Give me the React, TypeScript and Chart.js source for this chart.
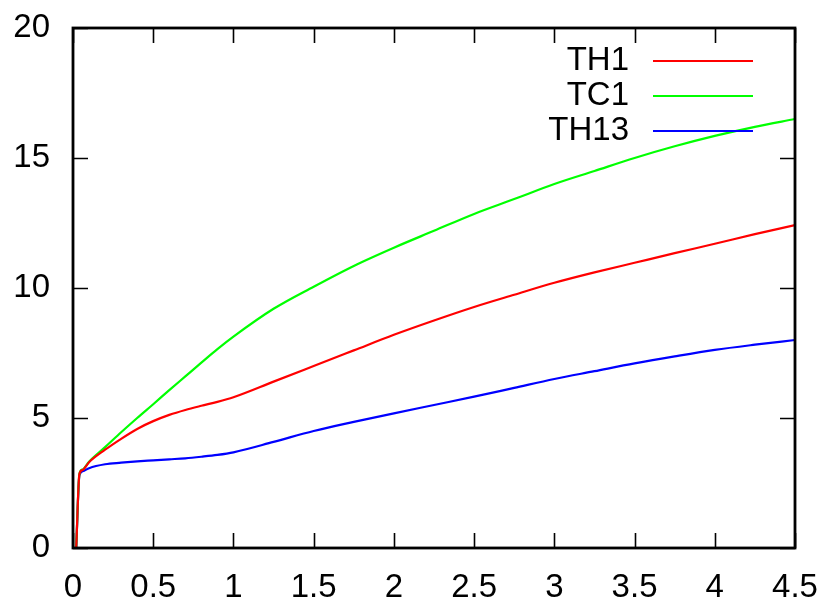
import React, { useEffect, useRef } from "react";
import { Chart, registerables } from "chart.js";

Chart.register(...registerables);

// Sample positions shared by all three series
const xValues = [
  0.02, 0.04, 0.06, 0.1, 0.2, 0.3, 0.4, 0.5, 0.6, 0.7, 0.8, 0.9, 1.0, 1.25, 1.5,
  1.75, 2.0, 2.25, 2.5, 2.75, 3.0, 3.25, 3.5, 3.75, 4.0, 4.25, 4.5,
];

const th1 = [
  0, 2.85, 3.0, 3.3, 3.78, 4.2, 4.58, 4.88, 5.12, 5.31, 5.47, 5.62, 5.8, 6.4, 7.0,
  7.6, 8.2, 8.75, 9.27, 9.74, 10.2, 10.6, 10.97, 11.34, 11.7, 12.07, 12.42,
];

const tc1 = [
  0, 2.85, 3.02, 3.32, 3.88, 4.45, 5.0, 5.53, 6.07, 6.6, 7.13, 7.65, 8.13, 9.2,
  10.05, 10.85, 11.55, 12.2, 12.85, 13.42, 14.0, 14.5, 15.0, 15.45, 15.85, 16.2,
  16.5,
];

const th13 = [
  0, 2.8, 2.95, 3.07, 3.22, 3.28, 3.33, 3.37, 3.41, 3.45, 3.51, 3.58, 3.68, 4.08,
  4.5, 4.85, 5.18, 5.5, 5.82, 6.16, 6.5, 6.8, 7.1, 7.37, 7.62, 7.82, 8.0,
];

const xTicks = [0, 0.5, 1, 1.5, 2, 2.5, 3, 3.5, 4, 4.5];
const yTicks = [0, 5, 10, 15, 20];

const seriesNames = ["TH1", "TC1", "TH13"];
const seriesColors = ["#ff0000", "#00ff00", "#0000ff"];

const FONT = '"Liberation Sans", Arial, Helvetica, sans-serif';
const FONT_SIZE = 33;

const toPoints = (ys: number[]) => xValues.map((x, i) => ({ x, y: ys[i] }));

// Frame with inward tick marks on all four sides, plus a text-left legend
const framePlugin = {
  id: "frameAndKey",
  afterDatasetsDraw(chart: any) {
    const { ctx, chartArea, scales } = chart;
    const { left, right, top, bottom } = chartArea;
    const xs = scales.x;
    const ys = scales.y;
    const tickLen = 15;
    ctx.save();
    ctx.strokeStyle = "#000";
    ctx.lineWidth = 1.6;
    ctx.beginPath();
    xTicks.forEach((v) => {
      const px = Math.round(xs.getPixelForValue(v)) + 0.5;
      ctx.moveTo(px, bottom);
      ctx.lineTo(px, bottom - tickLen);
      ctx.moveTo(px, top);
      ctx.lineTo(px, top + tickLen);
    });
    yTicks.forEach((v) => {
      const py = Math.round(ys.getPixelForValue(v)) + 0.5;
      ctx.moveTo(left, py);
      ctx.lineTo(left + tickLen, py);
      ctx.moveTo(right, py);
      ctx.lineTo(right - tickLen, py);
    });
    ctx.stroke();

    ctx.lineWidth = 2.8;
    ctx.strokeRect(left, top, right - left, bottom - top);

    // Key
    ctx.font = `${FONT_SIZE}px ${FONT}`;
    ctx.textAlign = "right";
    ctx.textBaseline = "middle";
    ctx.fillStyle = "#000";
    const keyTextX = 629;
    const keyLineStart = 653;
    const keyLineEnd = 753;
    const keyTop = 61;
    const keyStep = 35;
    seriesNames.forEach((name, i) => {
      const y = keyTop + i * keyStep;
      ctx.fillText(name, keyTextX, y);
      ctx.strokeStyle = seriesColors[i];
      ctx.lineWidth = 2.2;
      ctx.beginPath();
      ctx.moveTo(keyLineStart, y);
      ctx.lineTo(keyLineEnd, y);
      ctx.stroke();
    });
    ctx.restore();
  },
};

export default function App() {
  const canvasRef = useRef<HTMLCanvasElement | null>(null);

  useEffect(() => {
    const canvas = canvasRef.current;
    if (!canvas) return;
    const seriesData = [th1, tc1, th13];
    const chart = new Chart(canvas, {
      type: "line",
      data: {
        datasets: seriesNames.map((name, i) => ({
          label: name,
          data: toPoints(seriesData[i]),
          borderColor: seriesColors[i],
          backgroundColor: seriesColors[i],
          borderWidth: 2.2,
          pointRadius: 0,
          fill: false,
          cubicInterpolationMode: "monotone" as const,
        })),
      },
      options: {
        animation: false,
        responsive: false,
        devicePixelRatio: 1,
        layout: { padding: { left: 0, right: 34, top: 28, bottom: 0 } },
        plugins: {
          legend: { display: false },
          tooltip: { enabled: false },
        },
        scales: {
          x: {
            type: "linear",
            min: 0,
            max: 4.5,
            grid: { display: false, drawTicks: false },
            border: { display: false },
            afterBuildTicks: (s: any) => {
              s.ticks = xTicks.map((v) => ({ value: v }));
            },
            afterFit: (s: any) => {
              s.height = 53;
              s.paddingLeft = 0;
              s.paddingRight = 0;
            },
            ticks: {
              autoSkip: false,
              maxRotation: 0,
              padding: 20,
              color: "#000",
              font: { family: FONT, size: FONT_SIZE },
              callback: (v: any) => String(v),
            },
          },
          y: {
            type: "linear",
            min: 0,
            max: 20,
            grid: { display: false, drawTicks: false },
            border: { display: false },
            afterBuildTicks: (s: any) => {
              s.ticks = yTicks.map((v) => ({ value: v }));
            },
            afterFit: (s: any) => {
              s.width = 73;
              s.paddingTop = 0;
              s.paddingBottom = 0;
            },
            ticks: {
              padding: 23,
              color: "#000",
              font: { family: FONT, size: FONT_SIZE },
              callback: (v: any) => String(v),
            },
          },
        },
      },
      plugins: [framePlugin],
    });
    return () => chart.destroy();
  }, []);

  return (
    <div style={{ position: "fixed", left: 0, top: 0, width: 829, height: 601, background: "#fff" }}>
      <canvas ref={canvasRef} width={829} height={601} />
    </div>
  );
}
